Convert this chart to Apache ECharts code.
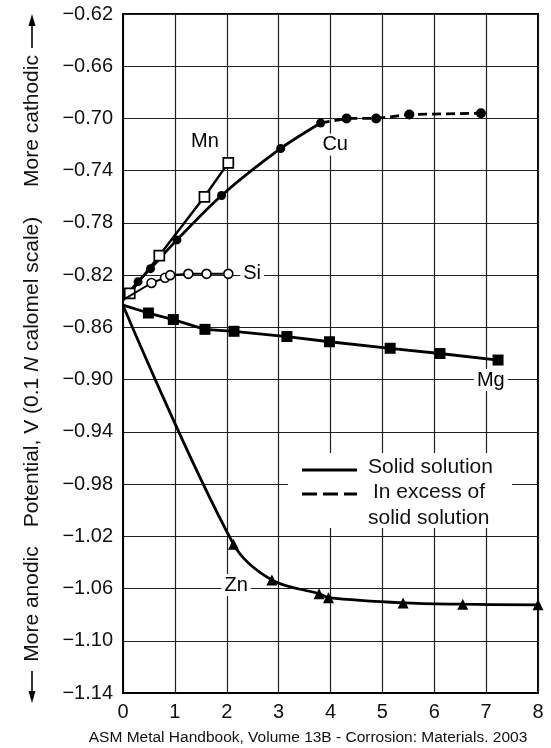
<!DOCTYPE html>
<html>
<head>
<meta charset="utf-8">
<script src="https://cdn.jsdelivr.net/npm/echarts@6/dist/echarts.min.js"></script>
<style>
  html, body { margin: 0; padding: 0; background: #fff; }
  #chart { width: 551px; height: 748px; }
</style>
</head>
<body>
<div id="chart"></div>
<script>
// Alloying element content, wt% (x) and potential, V vs 0.1 N calomel (y)
const mnX = [0, 0.13, 0.70, 1.57, 2.03];
const mnV = [-0.839, -0.834, -0.805, -0.760, -0.734];

const cuX = [0, 0.29, 0.53, 1.04, 1.90, 3.04, 3.81];
const cuV = [-0.839, -0.825, -0.815, -0.793, -0.759, -0.723, -0.7035];

const cuExcessX = [3.81, 4.31, 4.88, 5.52, 6.90];
const cuExcessV = [-0.7035, -0.700, -0.700, -0.697, -0.696];

const siX = [0, 0.55, 0.81, 0.91, 1.26, 1.61, 2.03];
const siV = [-0.839, -0.826, -0.822, -0.820, -0.819, -0.819, -0.819];

const mgX = [0, 0.49, 0.97, 1.58, 2.14, 3.16, 3.98, 5.15, 6.11, 7.23];
const mgV = [-0.843, -0.849, -0.854, -0.8615, -0.863, -0.867, -0.871, -0.876, -0.880, -0.885];

const znX = [0, 2.13, 2.87, 3.78, 3.96, 5.40, 6.55, 8.0];
const znV = [-0.843, -1.026, -1.0535, -1.064, -1.067, -1.071, -1.072, -1.0725];

// Element name tags, placed in data coordinates
const tagNames = ['Mn', 'Cu', 'Si', 'Mg', 'Zn'];
const tagX = [1.58, 4.09, 2.49, 7.09, 2.18];
const tagV = [-0.7176, -0.720, -0.819, -0.9003, -1.0573];

// Axis ranges
const xRange = [0, 8, 1];
const yRange = [-1.14, -0.62, 0.04];

const FONT = 'Liberation Sans, Arial, Helvetica, sans-serif';
const INK = '#111';

// first point (pure aluminium) carries no marker
function pts(xs, vs, firstBare) {
  return xs.map((x, i) => (firstBare && i === 0) ? { value: [x, vs[i]], symbol: 'none' } : [x, vs[i]]);
}

const chart = echarts.init(document.getElementById('chart'), null, { renderer: 'canvas' });

const option = {
  animation: false,
  backgroundColor: '#fff',
  textStyle: { fontFamily: FONT },
  grid: {
    left: 123, top: 14, right: 13, bottom: 55,
    show: true, borderColor: '#000', borderWidth: 2, backgroundColor: 'transparent'
  },
  xAxis: {
    type: 'value', min: xRange[0], max: xRange[1], interval: xRange[2],
    axisLine: { show: true, lineStyle: { color: '#000', width: 2 } },
    axisTick: { show: false },
    axisLabel: { color: INK, fontSize: 20, fontFamily: FONT, margin: 9 },
    splitLine: { show: true, lineStyle: { color: '#222', width: 1.2 } }
  },
  yAxis: {
    type: 'value', min: yRange[0], max: yRange[1], interval: yRange[2],
    axisLine: { show: true, lineStyle: { color: '#000', width: 2 } },
    axisTick: { show: false },
    axisLabel: {
      color: INK, fontSize: 20, fontFamily: FONT, margin: 10,
      formatter: v => (v < 0 ? '\u2212' : '') + Math.abs(v).toFixed(2)
    },
    splitLine: { show: true, lineStyle: { color: '#222', width: 1.2 } }
  },
  series: [
    {
      name: 'Mn', type: 'line', data: pts(mnX, mnV, true), clip: false,
      symbol: 'rect', symbolSize: 10,
      itemStyle: { color: '#fff', borderColor: '#000', borderWidth: 1.7 },
      lineStyle: { color: '#000', width: 2.4 }, z: 4
    },
    {
      name: 'Cu', type: 'line', data: pts(cuX, cuV, true), clip: false, smooth: 0.3,
      symbol: 'circle', symbolSize: 9,
      itemStyle: { color: '#000' },
      lineStyle: { color: '#000', width: 2.8 }, z: 3
    },
    {
      name: 'Cu excess', type: 'line', data: pts(cuExcessX, cuExcessV, true), clip: false,
      symbol: 'circle', symbolSize: 10,
      itemStyle: { color: '#000' },
      lineStyle: { color: '#000', width: 2.8, type: [9, 5] }, z: 3
    },
    {
      name: 'Si', type: 'line', data: pts(siX, siV, true), clip: false,
      symbol: 'circle', symbolSize: 9,
      itemStyle: { color: '#fff', borderColor: '#000', borderWidth: 1.6 },
      lineStyle: { color: '#000', width: 2 }, z: 5
    },
    {
      name: 'Mg', type: 'line', data: pts(mgX, mgV, true), clip: false,
      symbol: 'rect', symbolSize: 11,
      itemStyle: { color: '#000' },
      lineStyle: { color: '#000', width: 2.8 }, z: 3
    },
    {
      name: 'Zn', type: 'line', data: pts(znX, znV, true), clip: false, smooth: 0.35,
      symbol: 'triangle', symbolSize: 11,
      itemStyle: { color: '#000' },
      lineStyle: { color: '#000', width: 2.8 }, z: 3
    },
    {
      name: 'tags', type: 'scatter', symbolSize: 0, silent: true, z: 6,
      itemStyle: { opacity: 1 },
      data: tagNames.map((n, i) => ({ name: n, value: [tagX[i], tagV[i]] })),
      label: {
        show: true, position: 'inside', formatter: p => p.name, opacity: 1,
        color: '#000', fontSize: 20, fontFamily: FONT,
        backgroundColor: '#fff', padding: [1, 3]
      }
    }
  ],
  graphic: [
    // vertical axis title
    {
      type: 'text', x: 32, y: 121, rotation: Math.PI / 2,
      style: { text: 'More cathodic', fill: INK, font: '21px ' + FONT, align: 'center', verticalAlign: 'middle' }
    },
    {
      type: 'text', x: 32, y: 372, rotation: Math.PI / 2,
      style: {
        text: '{a|Potential, V (0.1 }{i|N}{a| calomel scale)}',
        align: 'center', verticalAlign: 'middle',
        rich: {
          a: { fill: INK, fontSize: 21, fontFamily: FONT },
          i: { fill: INK, fontSize: 21, fontFamily: FONT, fontStyle: 'italic' }
        }
      }
    },
    {
      type: 'text', x: 32, y: 604, rotation: Math.PI / 2,
      style: { text: 'More anodic', fill: INK, font: '21px ' + FONT, align: 'center', verticalAlign: 'middle' }
    },
    { type: 'line', shape: { x1: 32, y1: 48, x2: 32, y2: 22 }, style: { stroke: '#000', lineWidth: 1.6 } },
    { type: 'polygon', shape: { points: [[32, 14], [28.5, 26], [35.5, 26]] }, style: { fill: '#000' } },
    { type: 'line', shape: { x1: 32, y1: 671, x2: 32, y2: 694 }, style: { stroke: '#000', lineWidth: 1.6 } },
    { type: 'polygon', shape: { points: [[32, 703], [28.5, 691], [35.5, 691]] }, style: { fill: '#000' } },

    // line-style key
    { type: 'rect', z: 50, shape: { x: 288, y: 453, width: 224, height: 75 }, style: { fill: '#fff' } },
    { type: 'line', z: 51, shape: { x1: 302, y1: 470, x2: 357, y2: 470 }, style: { stroke: '#000', lineWidth: 2.8 } },
    { type: 'line', z: 51, shape: { x1: 302, y1: 494, x2: 357, y2: 494 }, style: { stroke: '#000', lineWidth: 2.8, lineDash: [15, 6] } },
    { type: 'text', z: 51, x: 368, y: 467, style: { text: 'Solid solution', fill: INK, font: '21px ' + FONT, verticalAlign: 'middle' } },
    { type: 'text', z: 51, x: 373, y: 492, style: { text: 'In excess of', fill: INK, font: '21px ' + FONT, verticalAlign: 'middle' } },
    { type: 'text', z: 51, x: 368, y: 518, style: { text: 'solid solution', fill: INK, font: '21px ' + FONT, verticalAlign: 'middle' } },

    // source line
    {
      type: 'text', x: 308, y: 738,
      style: {
        text: 'ASM Metal Handbook, Volume 13B - Corrosion: Materials. 2003',
        fill: INK, font: '15.5px ' + FONT, align: 'center', verticalAlign: 'middle'
      }
    }
  ]
};

chart.setOption(option);
</script>
</body>
</html>
